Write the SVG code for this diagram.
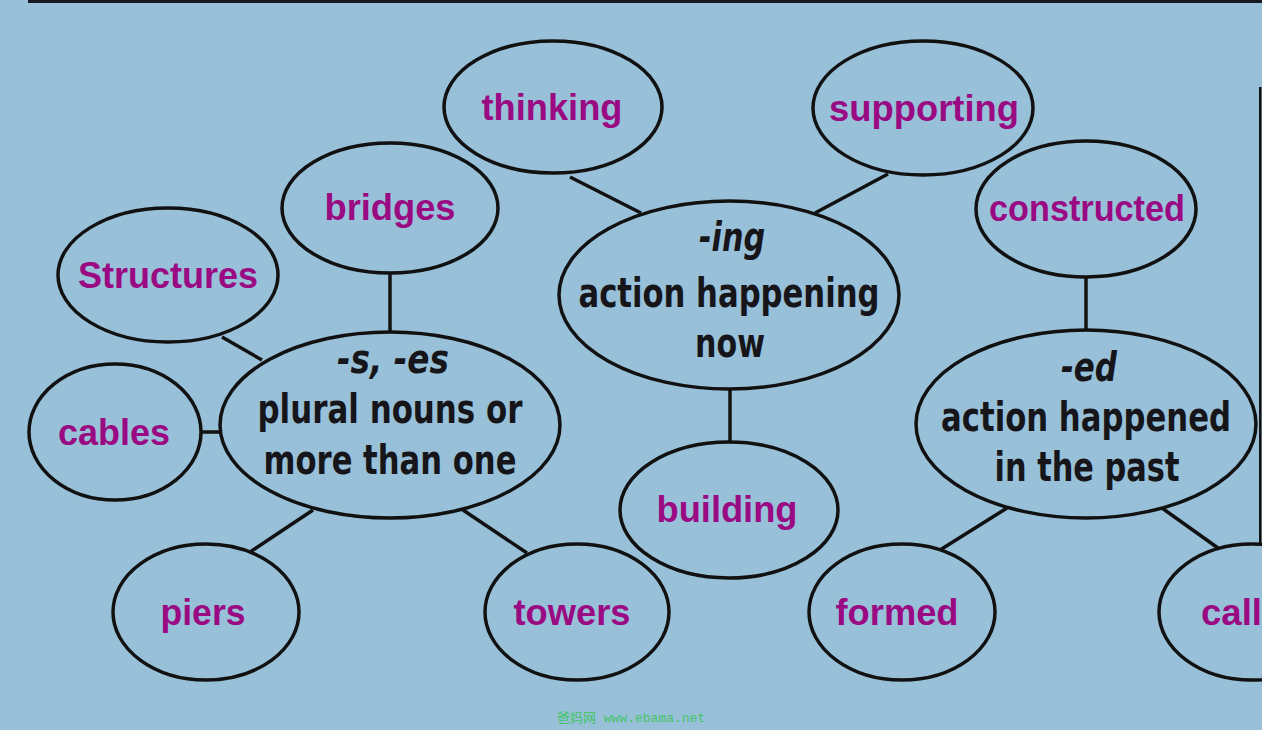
<svg xmlns="http://www.w3.org/2000/svg" width="1262" height="730" viewBox="0 0 1262 730">
<style>
.bg{fill:#98c0d9}
ellipse{fill:#98c0d9;stroke:#111;stroke-width:3.5}
.c line{stroke:#111;stroke-width:3.5}
.w{font-family:"Liberation Sans",Arial,sans-serif;font-weight:bold;font-size:36px;fill:#9a0a82;text-anchor:middle}
.d{font-family:"DejaVu Sans Condensed","Liberation Sans Narrow","Liberation Sans",sans-serif;font-stretch:condensed;font-weight:bold;font-size:40px;fill:#16161a;text-anchor:middle}
.i{font-style:italic}
</style>
<rect class="bg" x="0" y="0" width="1262" height="730"/>
<rect x="28" y="0" width="1234" height="3" fill="#151a22"/>
<rect x="1259" y="87" width="2.5" height="500" fill="#111"/>
<g class="c" id="connectors">
<line x1="570" y1="177" x2="641" y2="213"/>
<line x1="888" y1="174" x2="815" y2="213"/>
<line x1="390" y1="274" x2="390" y2="333"/>
<line x1="222" y1="337" x2="262" y2="360"/>
<line x1="200" y1="432" x2="222" y2="432"/>
<line x1="313" y1="510" x2="250" y2="552"/>
<line x1="463" y1="510" x2="527" y2="553"/>
<line x1="730" y1="390" x2="730" y2="442"/>
<line x1="1086" y1="277" x2="1086" y2="330"/>
<line x1="1007" y1="508" x2="940" y2="550"/>
<line x1="1162" y1="508" x2="1218" y2="548"/>
</g>
<g id="thinking"><ellipse cx="553" cy="107" rx="109" ry="66"/><text class="w" x="552" y="120" textLength="141" lengthAdjust="spacingAndGlyphs">thinking</text></g>
<g id="supporting"><ellipse cx="923" cy="108" rx="110" ry="67"/><text class="w" x="924" y="121" textLength="190" lengthAdjust="spacingAndGlyphs">supporting</text></g>
<g id="bridges"><ellipse cx="390" cy="208" rx="108" ry="65"/><text class="w" x="390" y="220" textLength="131" lengthAdjust="spacingAndGlyphs">bridges</text></g>
<g id="structures"><ellipse cx="168" cy="275" rx="110" ry="67"/><text class="w" x="168" y="288" textLength="180" lengthAdjust="spacingAndGlyphs">Structures</text></g>
<g id="constructed"><ellipse cx="1086" cy="209" rx="110" ry="68"/><text class="w" x="1087" y="221" textLength="196" lengthAdjust="spacingAndGlyphs">constructed</text></g>
<g id="ing"><ellipse cx="729" cy="295" rx="170" ry="94"/>
<text class="d i" x="732" y="251" textLength="66" lengthAdjust="spacingAndGlyphs">-ing</text>
<text class="d" x="729" y="307" textLength="301" lengthAdjust="spacingAndGlyphs">action happening</text>
<text class="d" x="730" y="357" textLength="70" lengthAdjust="spacingAndGlyphs">now</text></g>
<g id="s-es"><ellipse cx="390" cy="425" rx="170" ry="93"/>
<text class="d i" x="393" y="373" textLength="112" lengthAdjust="spacingAndGlyphs">-s, -es</text>
<text class="d" x="390" y="423" textLength="265" lengthAdjust="spacingAndGlyphs">plural nouns or</text>
<text class="d" x="390" y="474" textLength="253" lengthAdjust="spacingAndGlyphs">more than one</text></g>
<g id="cables"><ellipse cx="115" cy="432" rx="86" ry="68"/><text class="w" x="114" y="445" textLength="112" lengthAdjust="spacingAndGlyphs">cables</text></g>
<g id="ed"><ellipse cx="1086" cy="424" rx="170" ry="94"/>
<text class="d i" x="1089" y="381" textLength="56" lengthAdjust="spacingAndGlyphs">-ed</text>
<text class="d" x="1086" y="431" textLength="290" lengthAdjust="spacingAndGlyphs">action happened</text>
<text class="d" x="1087" y="481" textLength="185" lengthAdjust="spacingAndGlyphs">in the past</text></g>
<g id="building"><ellipse cx="729" cy="510" rx="109" ry="68"/><text class="w" x="727" y="522" textLength="141" lengthAdjust="spacingAndGlyphs">building</text></g>
<g id="piers"><ellipse cx="206" cy="612" rx="93" ry="68"/><text class="w" x="203" y="625" textLength="85" lengthAdjust="spacingAndGlyphs">piers</text></g>
<g id="towers"><ellipse cx="577" cy="612" rx="92" ry="68"/><text class="w" x="572" y="625" textLength="117" lengthAdjust="spacingAndGlyphs">towers</text></g>
<g id="formed"><ellipse cx="902" cy="612" rx="93" ry="68"/><text class="w" x="897" y="625" textLength="123" lengthAdjust="spacingAndGlyphs">formed</text></g>
<g id="called"><ellipse cx="1252" cy="612" rx="93" ry="68"/><text class="w" x="1201" y="625" style="text-anchor:start" textLength="61" lengthAdjust="spacingAndGlyphs">call</text></g>
<text x="557" y="722" font-family="'Liberation Mono','Noto Sans CJK SC',monospace" font-size="13" fill="#45c468">爸妈网 www.ebama.net</text>
</svg>
